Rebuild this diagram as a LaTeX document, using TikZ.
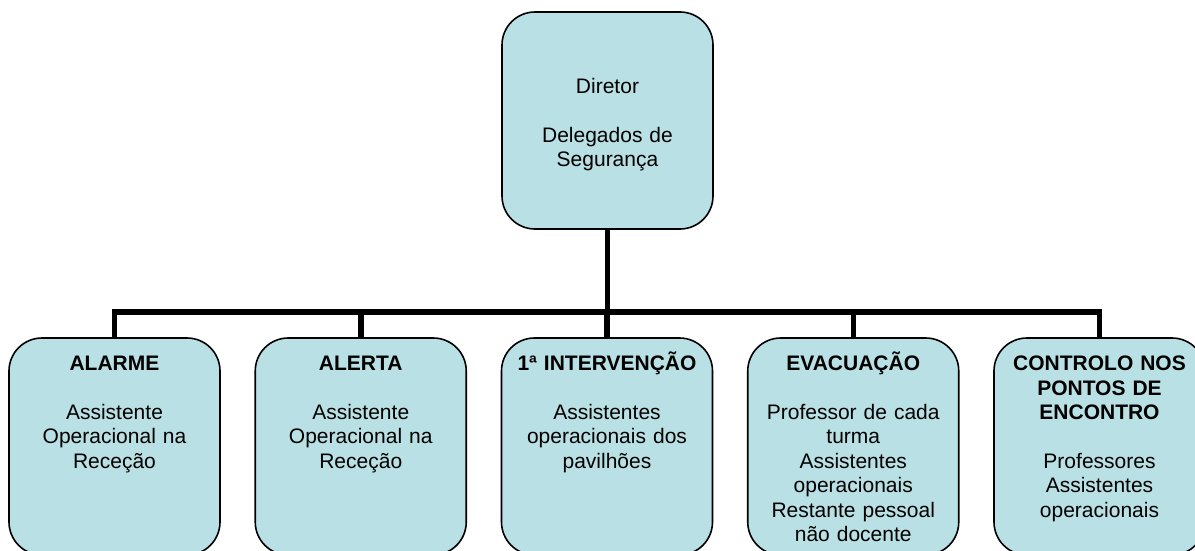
\documentclass[tikz,border=0pt]{standalone}
\usepackage{fontspec}
\setmainfont{Liberation Sans}
\usetikzlibrary{positioning}
\definecolor{BoxFill}{HTML}{B9E0E4}
\definecolor{BoxBord}{HTML}{000000}
\tikzset{
  every picture/.append style={font=\fontsize{21pt}{24.4pt}\selectfont},
  box/.style={rectangle, rounded corners=33pt, draw=BoxBord, fill=BoxFill, line width=1.6pt,
              minimum width=211pt, minimum height=217pt, inner sep=0pt, outer sep=0pt},
  txt/.style={text width=205pt, align=center, inner sep=0pt},
  conn/.style={line width=5.5pt, draw=black},
}
\newcommand{\tstrut}{\rule{0pt}{20pt}}

\begin{document}
\begin{tikzpicture}[x=1pt,y=-1pt]
\clip (0,0) rectangle (1195,551);

% ---------------- top box ----------------------------------------------------
\node[box] (dir) at (607.5,120.5) {};
\node[txt] (dir-txt) at (607.5,124.8)
  {Diretor\\[\baselineskip]Delegados de\\Segurança};

% ---------------- bottom row -------------------------------------------------
\foreach \i/\n/\h/\b in {
  0/alarme/{ALARME}/{Assistente\\Operacional na\\Receção},
  1/alerta/{ALERTA}/{Assistente\\Operacional na\\Receção},
  2/interv/{1ª INTERVENÇÃO}/{Assistentes\\operacionais dos\\pavilhões},
  3/evac/{EVACUAÇÃO}/{Professor de cada\\turma\\Assistentes\\operacionais\\Restante pessoal\\não docente},
  4/controlo/{CONTROLO NOS\\PONTOS DE\\ENCONTRO}/{Professores\\Assistentes\\operacionais}}{
  \node[box] (\n) at ({114.5+246.25*\i},446.5) {};
  \node[txt, anchor=north, yshift=-12.5pt] (\n-txt) at (\n.north)
    {\tstrut\textbf{\h}\\[\baselineskip]\b};
}

% ---------------- connectors -------------------------------------------------
\coordinate (bar) at (607.5,312);
\draw[conn] (dir.south) -- (bar);
\draw[conn] (alarme.north) |- (bar) -| (controlo.north);
\foreach \n in {alerta,interv,evac}{ \draw[conn] (\n.north) -- (\n.north |- bar); }

\end{tikzpicture}
\end{document}
